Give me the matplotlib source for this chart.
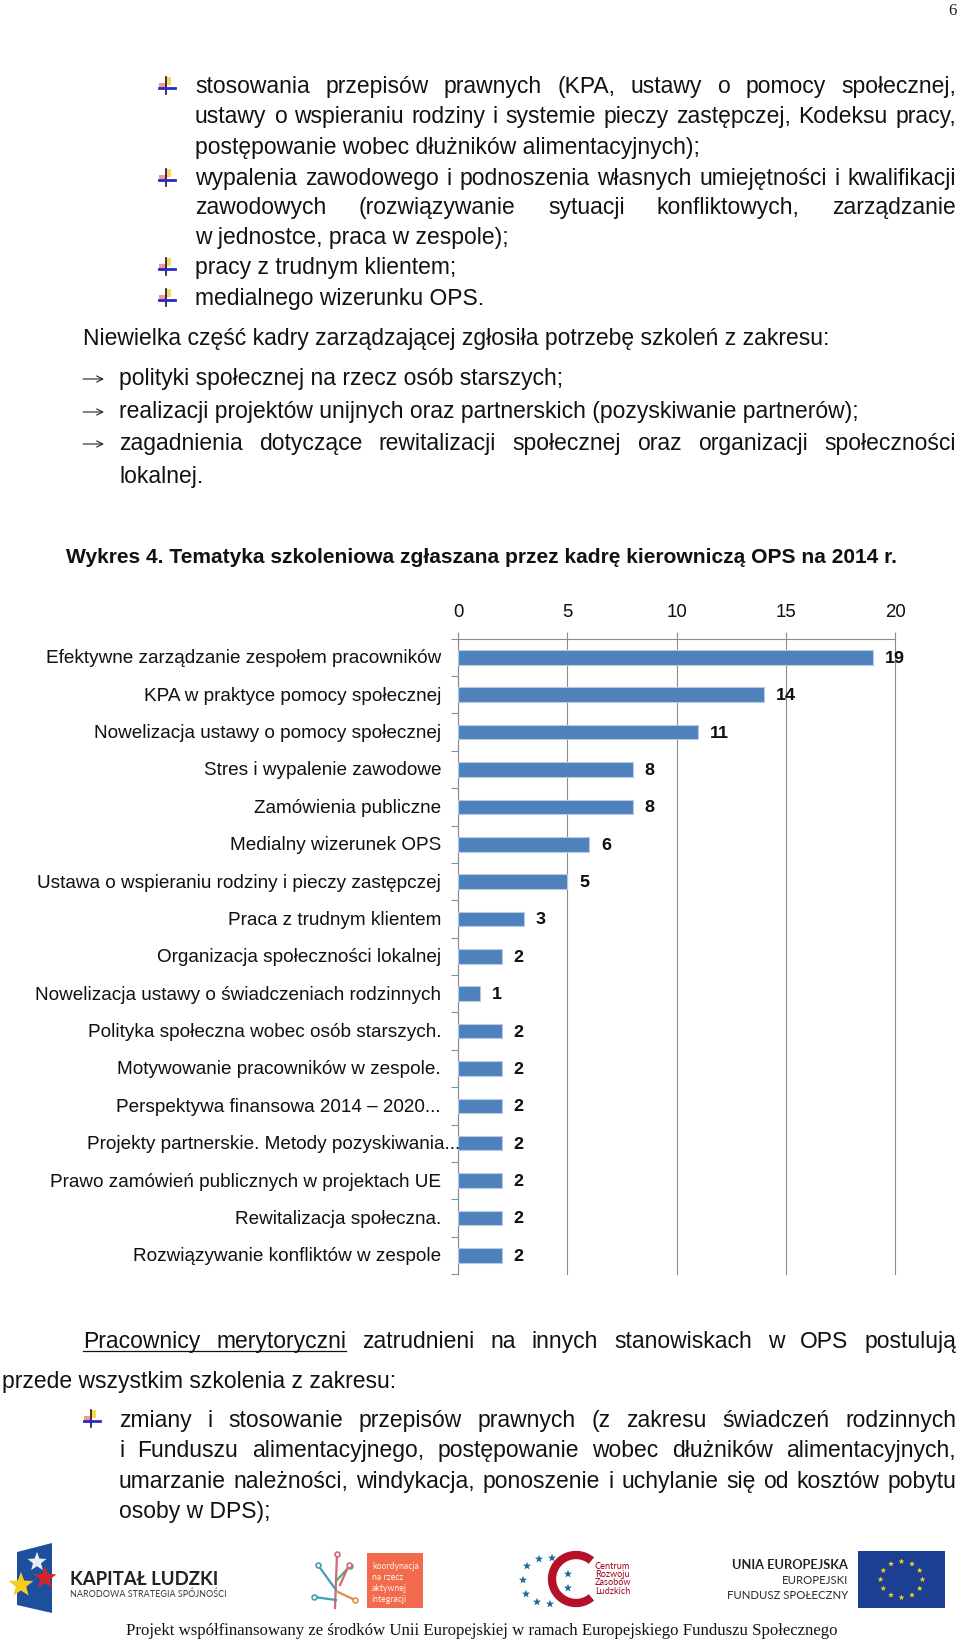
"""
Page with a horizontal bar chart of training topics (Wykres 4).
"""

import matplotlib
matplotlib.use("Agg")
import matplotlib.pyplot as plt
from matplotlib.patches import Arc, Polygon, Rectangle
import numpy as np

W, H = 960, 1639

categories = [
    "Efektywne zarządzanie zespołem pracowników",
    "KPA w praktyce pomocy społecznej",
    "Nowelizacja ustawy o pomocy społecznej",
    "Stres i wypalenie zawodowe",
    "Zamówienia publiczne",
    "Medialny wizerunek OPS",
    "Ustawa o wspieraniu rodziny i pieczy zastępczej",
    "Praca z trudnym klientem",
    "Organizacja społeczności lokalnej",
    "Nowelizacja ustawy o świadczeniach rodzinnych",
    "Polityka społeczna wobec osób starszych.",
    "Motywowanie pracowników w zespole.",
    "Perspektywa finansowa 2014 – 2020...",
    "Projekty partnerskie. Metody pozyskiwania...",
    "Prawo zamówień publicznych w projektach UE",
    "Rewitalizacja społeczna.",
    "Rozwiązywanie konfliktów w zespole",
]
values = [19, 14, 11, 8, 8, 6, 5, 3, 2, 1, 2, 2, 2, 2, 2, 2, 2]
x_ticks = [0, 5, 10, 15, 20]

top_lines = [
    "stosowania przepisów prawnych (KPA, ustawy o pomocy społecznej,",
    "ustawy o wspieraniu rodziny i systemie pieczy zastępczej, Kodeksu pracy,",
    "postępowanie wobec dłużników alimentacyjnych);",
    "wypalenia zawodowego i podnoszenia własnych umiejętności i kwalifikacji",
    "zawodowych (rozwiązywanie sytuacji konfliktowych, zarządzanie",
    "w jednostce, praca w zespole);",
    "pracy z trudnym klientem;",
    "medialnego wizerunku OPS.",
]
top_justified = [True, True, False, True, True, False, False, False]
top_y = [93, 123, 154, 185, 214, 244, 274, 305]
top_bullets = [0, 3, 6, 7]

intro = "Niewielka część kadry zarządzającej zgłosiła potrzebę szkoleń z zakresu:"
mid_lines = [
    "polityki społecznej na rzecz osób starszych;",
    "realizacji projektów unijnych oraz partnerskich (pozyskiwanie partnerów);",
    "zagadnienia dotyczące rewitalizacji społecznej oraz organizacji społeczności",
    "lokalnej.",
]
mid_justified = [False, False, True, False]
mid_y = [385, 418, 450, 483]
caption = "Wykres 4. Tematyka szkoleniowa zgłaszana przez kadrę kierowniczą OPS na 2014 r."

bottom_lines = [
    "zmiany i stosowanie przepisów prawnych (z zakresu świadczeń rodzinnych",
    "i Funduszu alimentacyjnego, postępowanie wobec dłużników alimentacyjnych,",
    "umarzanie należności, windykacja, ponoszenie i uchylanie się od kosztów pobytu",
    "osoby w DPS);",
]
bottom_justified = [True, True, True, False]
bottom_y = [1427, 1457, 1488, 1518]
footer = "Projekt współfinansowany ze środków Unii Europejskiej w ramach Europejskiego Funduszu Społecznego"

plt.rcParams["font.family"] = ["Liberation Sans", "DejaVu Sans"]
plt.rcParams["text.hinting"] = "no_autohint"
BODY = 16.5

fig = plt.figure(figsize=(W / 100, H / 100), dpi=100)
page = fig.add_axes([0, 0, 1, 1])
page.set_xlim(0, W)
page.set_ylim(H, 0)
page.axis("off")
renderer = fig.canvas.get_renderer()


def width_of(s, **kw):
    t = page.text(0, 0, s, **kw)
    w = t.get_window_extent(renderer).width
    t.remove()
    return w


def put_line(s, x, y, right=None, size=BODY, color="#111111", **kw):
    """Write a line at baseline y, spread to the right edge if one is given. Returns word ends"""
    if right is None:
        page.text(x, y, s, fontsize=size, color=color, va="baseline", **kw)
        return []
    words = s.split()
    widths = [width_of(w, fontsize=size, **kw) for w in words]
    gap = (right - x - sum(widths)) / (len(words) - 1)
    ends = []
    for w, wd in zip(words, widths):
        page.text(x, y, w, fontsize=size, color=color, va="baseline", **kw)
        ends.append(x + wd)
        x += wd + gap
    return ends


def ribbon_bullet(x, y):
    page.add_patch(Rectangle((x - 8, y - 4), 7, 7, color="#f59a90", lw=0))
    page.add_patch(Rectangle((x - 2, y - 10), 6, 8, color="#f5dc50", lw=0))
    page.plot([x - 1, x - 1], [y - 10, y + 7], color="#201040", lw=1.2)
    page.plot([x - 8, x + 8], [y + 1, y + 1], color="#2a2acc", lw=2)


def arrow_bullet(x, y):
    page.annotate("", xy=(x + 21, y), xytext=(x, y),
                  arrowprops=dict(arrowstyle="->", color="#222222", lw=0.8, shrinkA=0, shrinkB=0, mutation_scale=11))


for i, line in enumerate(top_lines):
    put_line(line, 195, top_y[i], 956 if top_justified[i] else None)
for i in top_bullets:
    ribbon_bullet(167, top_y[i] - 6)

put_line(intro, 83, 345)
for i, line in enumerate(mid_lines):
    put_line(line, 119, mid_y[i], 956 if mid_justified[i] else None)
    if i < 3:
        arrow_bullet(83, mid_y[i] - 6)
put_line(caption, 66, 563, size=15.1, fontweight="bold")

ends = put_line("Pracownicy merytoryczni zatrudnieni na innych stanowiskach w OPS postulują", 83, 1348, 956)
page.plot([83, ends[1]], [1351, 1351], color="#111111", lw=0.9)
put_line("przede wszystkim szkolenia z zakresu:", 2, 1388)
for i, line in enumerate(bottom_lines):
    put_line(line, 119, bottom_y[i], 956 if bottom_justified[i] else None)
ribbon_bullet(92, bottom_y[0] - 7)

page.text(952, 15, "6", fontsize=12, family="Liberation Serif", color="#222222", ha="center")
page.text(482, 1635, footer, fontsize=12.1, family="Liberation Serif", color="#111111", ha="center", va="baseline")

# Chart
left, right, top, bottom = 458, 895, 638.7, 1274
ax = fig.add_axes([left / W, 1 - bottom / H, (right - left) / W, (bottom - top) / H])
pos = np.arange(len(values))
ax.barh(pos, values, height=0.39, color="#4F81BD", edgecolor="#B5CBE3", linewidth=0.8, zorder=3)
ax.set_xlim(0, 20)
ax.set_ylim(len(values) - 0.5, -0.5)
ax.set_xticks(x_ticks)
ax.xaxis.tick_top()
ax.set_yticks(np.arange(len(values) + 1) - 0.5)
ax.set_yticklabels([])
ax.grid(True, axis="x", color="#8C8C8C", lw=0.8, zorder=0)
for gl in ax.get_xgridlines():
    gl.set_clip_on(False)
ax.tick_params(axis="x", length=5, color="#8C8C8C", pad=8, labelsize=13.5, labelcolor="#111111")
ax.tick_params(axis="y", length=5, color="#8C8C8C")
for side in ["right", "bottom"]:
    ax.spines[side].set_visible(False)
for side in ["left", "top"]:
    ax.spines[side].set_color("#8C8C8C")
    ax.spines[side].set_linewidth(0.8)

for i, (name, v) in enumerate(zip(categories, values)):
    # the cut-off label runs further right than the others
    label_x = 460 if "partnerskie" in name else 441
    ax.annotate(name, (0, i), xytext=(label_x - left, -1), textcoords="offset pixels",
                ha="right", va="center", fontsize=13.55, color="#111111", annotation_clip=False)
    ax.annotate(str(v), (v, i), xytext=(12, -1), textcoords="offset pixels",
                ha="left", va="center", fontsize=13, fontweight="bold",
                color="#111111", annotation_clip=False)


def star(x, y, r, color):
    a = np.arange(10) * np.pi / 5 - np.pi / 2
    rad = np.where(np.arange(10) % 2 == 0, r, r * 0.42)
    page.add_patch(Polygon(np.c_[x + rad * np.cos(a), y + rad * np.sin(a)], color=color, lw=0, zorder=4))


# Logos
page.add_patch(Polygon([[17, 1552], [52, 1543], [52, 1613], [17, 1605]], color="#1c4f9c", lw=0))
star(37, 1562, 10, "#e9edf3")
star(21, 1585, 13, "#f6cc1e")
star(45, 1578, 12, "#d3242a")
page.text(70, 1585, "KAPITAŁ LUDZKI", fontsize=13.4, family="Lato", fontweight="bold", color="#222222", va="baseline")
page.text(70, 1597, "NARODOWA STRATEGIA SPÓJNOŚCI", fontsize=6.5, family="Lato", color="#444444", va="baseline")

page.add_patch(Rectangle((367, 1553), 56, 55, color="#f26b4e", lw=0))
for j, s in enumerate(["koordynacja", "na rzecz", "aktywnej", "integracji"]):
    page.text(372, 1569 + j * 11, s, fontsize=6.3, family="Lato", color="#ffe8d8", va="baseline")
for x0, y0, x1, y1, c in [(335, 1608, 337, 1554, "#d6657a"), (336, 1590, 318, 1565, "#3f9fb0"),
                          (337, 1580, 350, 1566, "#4cae6f"), (336, 1600, 314, 1597, "#3f9fb0"),
                          (338, 1592, 355, 1600, "#e28b3f"), (340, 1585, 349, 1565, "#d6657a")]:
    page.plot([x0, x1], [y0, y1], color=c, lw=1.6)
    page.plot([x1], [y1], marker="o", ms=3.5, mfc="white", mec=c, mew=1.2)

page.add_patch(Arc((576, 1579), 48, 48, theta1=50, theta2=310, color="#b5122a", lw=6))
for sx, sy in [(539, 1559), (552, 1558), (527, 1566), (523, 1580), (526, 1594),
               (537, 1602), (550, 1604), (568, 1574), (568, 1588)]:
    star(sx, sy, 4.2, "#1e6c96")
for j, s in enumerate(["Centrum", "Rozwoju", "Zasobów", "Ludzkich"]):
    page.text(595, 1569 + j * 8.2, s, fontsize=6.6, family="Lato", color="#a8142c", va="baseline", ha="left")

page.text(848, 1569, "UNIA EUROPEJSKA", fontsize=9.2, family="Lato", fontweight="bold", color="#222222", ha="right")
page.text(848, 1584, "EUROPEJSKI", fontsize=8.2, family="Lato", color="#333333", ha="right")
page.text(848, 1599, "FUNDUSZ SPOŁECZNY", fontsize=8.2, family="Lato", color="#333333", ha="right")
page.add_patch(Rectangle((858, 1551), 87, 57, color="#1c3f94", lw=0))
for a in np.arange(12) * np.pi / 6:
    star(901.5 + 21 * np.cos(a), 1579.5 + 18 * np.sin(a), 3, "#f2d21f")

fig.savefig("out.png", dpi=100)
